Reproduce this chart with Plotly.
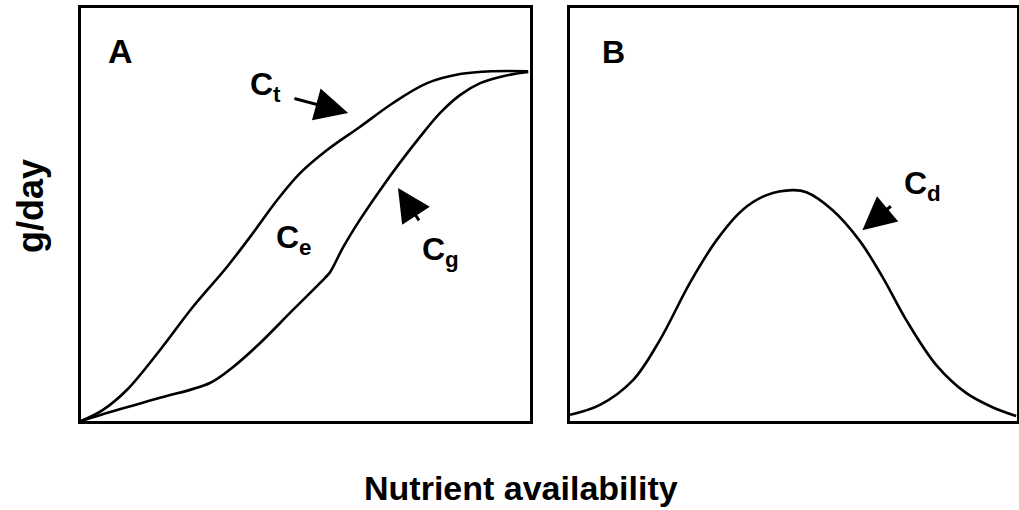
import plotly.graph_objects as go

# Panel A: total (Ct) and growth (Cg) curves vs nutrient availability (normalized units)
ct_x = [0.0, 0.049, 0.102, 0.176, 0.249, 0.325, 0.383, 0.437, 0.488, 0.548, 0.621, 0.695, 0.771, 0.844, 0.918, 0.996]
ct_y = [0.0, 0.027, 0.075, 0.172, 0.276, 0.373, 0.455, 0.535, 0.600, 0.656, 0.712, 0.770, 0.818, 0.840, 0.847, 0.847]

cg_x = [0.0, 0.065, 0.176, 0.287, 0.339, 0.399, 0.472, 0.543, 0.555, 0.584, 0.621, 0.666, 0.710, 0.755, 0.800, 0.844, 0.889, 0.940, 0.996]
cg_y = [0.0, 0.022, 0.056, 0.092, 0.131, 0.189, 0.269, 0.346, 0.361, 0.421, 0.487, 0.559, 0.625, 0.688, 0.746, 0.789, 0.818, 0.835, 0.845]

# Panel B: Cd curve
cd_x = [0.0, 0.067, 0.141, 0.201, 0.268, 0.328, 0.386, 0.440, 0.498, 0.529, 0.587, 0.647, 0.699, 0.752, 0.819, 0.886, 0.944, 0.998]
cd_y = [0.015, 0.039, 0.099, 0.196, 0.334, 0.438, 0.511, 0.547, 0.559, 0.554, 0.511, 0.438, 0.349, 0.245, 0.136, 0.068, 0.034, 0.012]

FONT = "Liberation Sans, Arial, sans-serif"
line = dict(color="black", width=2.6)

fig = go.Figure()
fig.add_trace(go.Scatter(x=ct_x, y=ct_y, mode="lines", line=dict(line, shape="spline"), xaxis="x", yaxis="y"))
fig.add_trace(go.Scatter(x=cg_x, y=cg_y, mode="lines", line=dict(line, shape="spline"), xaxis="x", yaxis="y"))
fig.add_trace(go.Scatter(x=cd_x, y=cd_y, mode="lines", line=dict(line, shape="spline"), xaxis="x2", yaxis="y2"))

ax = dict(range=[0, 1], showgrid=False, zeroline=False, showticklabels=False, ticks="",
          showline=True, mirror=True, linecolor="black", linewidth=2.5)
ydom = [1 - 421 / 510, 1 - 8 / 510]

annotations = [
    dict(text="<b>A</b>", x=0.089, y=0.895, xref="x", yref="y", showarrow=False, font=dict(size=34)),
    dict(text="<b>B</b>", x=0.098, y=0.893, xref="x2", yref="y2", showarrow=False, font=dict(size=32)),
    dict(text="<b>C<sub>t</sub></b>", x=0.41, y=0.81, xref="x", yref="y", showarrow=False, font=dict(size=32)),
    dict(text="<b>C<sub>e</sub></b>", x=0.475, y=0.44, xref="x", yref="y", showarrow=False, font=dict(size=32)),
    dict(text="<b>C<sub>g</sub></b>", x=0.80, y=0.41, xref="x", yref="y", showarrow=False, font=dict(size=32)),
    dict(text="<b>C<sub>d</sub></b>", x=0.788, y=0.57, xref="x2", yref="y2", showarrow=False, font=dict(size=32)),
    # arrows
    dict(x=0.595, y=0.746, ax=0.472, ay=0.782, xref="x", yref="y", axref="x", ayref="y",
         text="", showarrow=True, arrowhead=2, arrowsize=2.2, arrowwidth=3, arrowcolor="black"),
    dict(x=0.706, y=0.564, ax=0.755, ay=0.482, xref="x", yref="y", axref="x", ayref="y",
         text="", showarrow=True, arrowhead=2, arrowsize=2.2, arrowwidth=3, arrowcolor="black"),
    dict(x=0.654, y=0.462, ax=0.721, ay=0.523, xref="x2", yref="y2", axref="x2", ayref="y2",
         text="", showarrow=True, arrowhead=2, arrowsize=2.2, arrowwidth=3, arrowcolor="black"),
    # axis titles
    dict(text="<b>Nutrient availability</b>", x=521 / 1019, y=1 - 488 / 510, xref="paper", yref="paper",
         xanchor="center", yanchor="middle", showarrow=False, font=dict(size=34)),
    dict(text="<b>g/day</b>", x=30 / 1019, y=1 - 206 / 510, xref="paper", yref="paper",
         xanchor="center", yanchor="middle", showarrow=False, textangle=-90, font=dict(size=36)),
]

fig.update_layout(
    width=1019, height=510,
    margin=dict(l=0, r=0, t=0, b=0),
    paper_bgcolor="white", plot_bgcolor="white",
    showlegend=False,
    font=dict(family=FONT, color="black"),
    xaxis=dict(ax, domain=[81 / 1019, 530 / 1019], anchor="y"),
    yaxis=dict(ax, domain=ydom, anchor="x"),
    xaxis2=dict(ax, domain=[570 / 1019, 1017 / 1019], anchor="y2"),
    yaxis2=dict(ax, domain=ydom, anchor="x2"),
    annotations=annotations,
)

fig.write_html("out.html", config={"displayModeBar": False},
               post_script="document.body.style.margin='0';")
